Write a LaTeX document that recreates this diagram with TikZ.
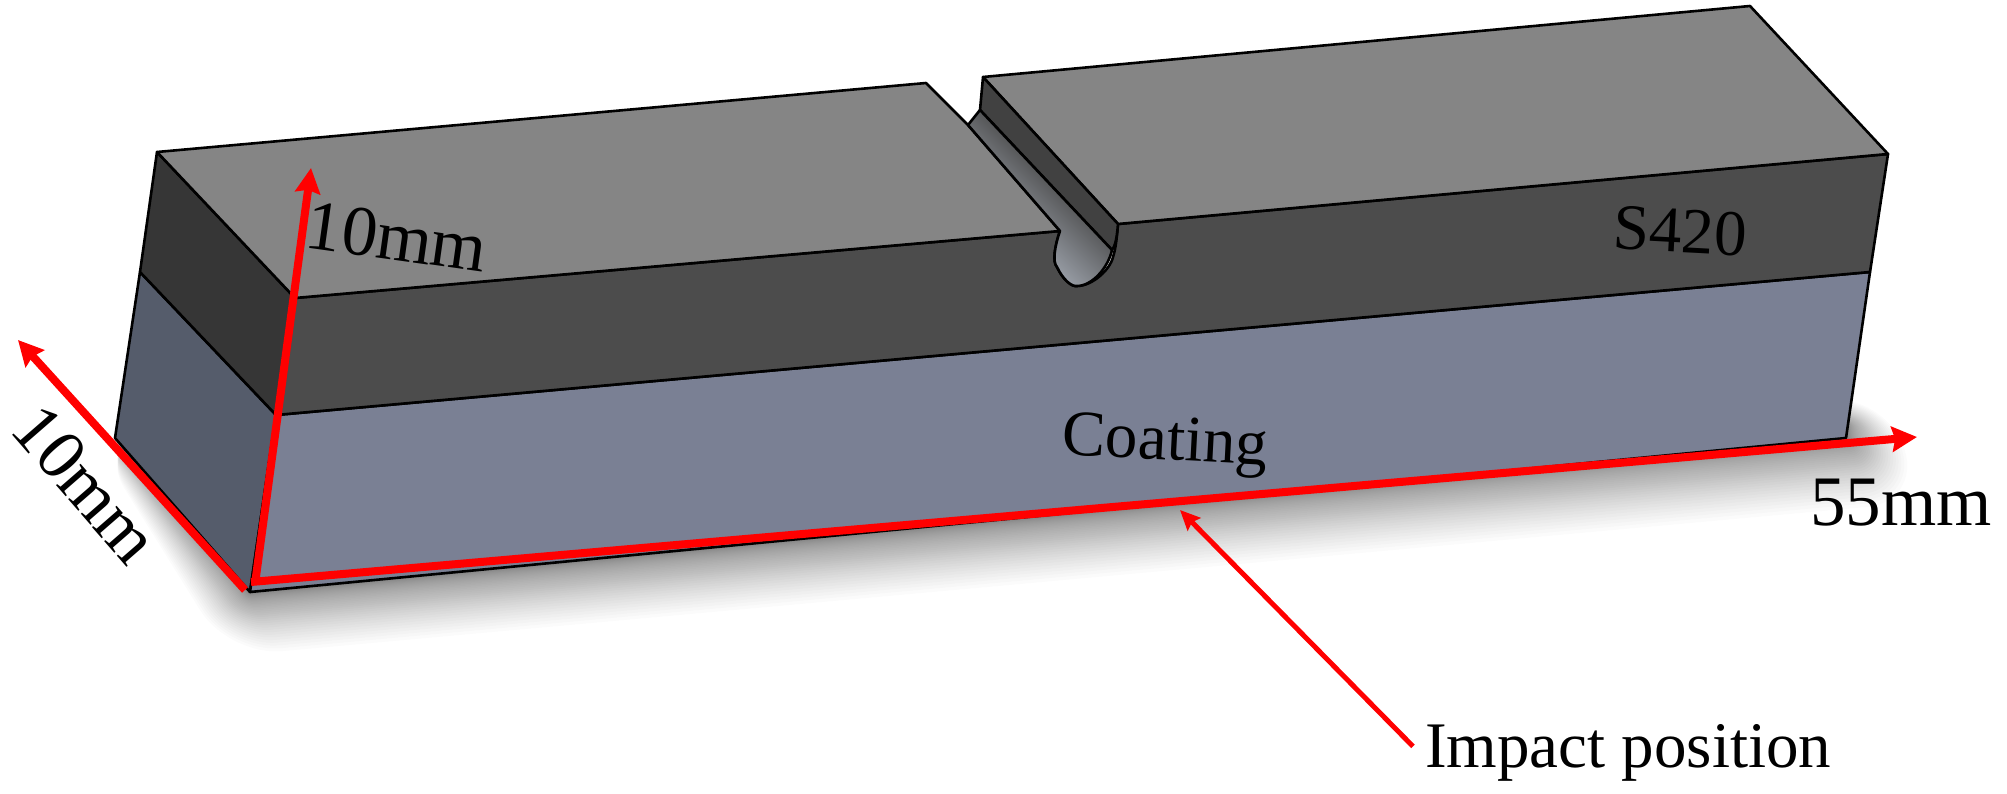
\documentclass[tikz,border=0pt]{standalone}
\usepackage{fontspec}
\setmainfont{Liberation Serif}
\usetikzlibrary{arrows.meta}
\definecolor{topgray}{HTML}{858585}
\definecolor{frontdark}{HTML}{4C4C4C}
\definecolor{sidedark}{HTML}{363636}
\definecolor{coatfront}{HTML}{7A8094}
\definecolor{coatside}{HTML}{555C6B}
\definecolor{dimred}{HTML}{FF0000}
\definecolor{groovelight}{HTML}{959AA2}
\definecolor{groovedark}{HTML}{484848}
\pgfdeclarehorizontalshading{grooveshade}{100bp}{color(0bp)=(groovelight); color(38bp)=(groovelight);
  color(60bp)=(groovedark); color(100bp)=(groovedark)}
\tikzstyle{edge} = [draw=black,line width=2.6pt,line join=round]
\tikzstyle{dimarrow} = [draw=dimred,line width=8pt,-{Stealth[length=25pt,width=25pt,inset=3pt]}]
\tikzstyle{thinarrow} = [draw=dimred,line width=5pt,-{Stealth[length=20pt,width=18pt,inset=3pt]}]
\tikzstyle{dimlabel} = [font=\fontsize{71}{71}\selectfont,text=black,inner sep=0pt]
\tikzstyle{matlabel} = [font=\fontsize{65}{65}\selectfont,text=black,inner sep=0pt]

\begin{document}
\begin{tikzpicture}[x=1pt,y=-1pt]
    \useasboundingbox (0,0) rectangle (2007,794);
    \fill [white] (0,0) rectangle (2007,794);
    % corners of the bar
    \coordinate (topback) at (157,152);
    \coordinate (topfront) at (295,298);
    \coordinate (midback) at (140,272);
    \coordinate (midfront) at (276,415);
    \coordinate (botback) at (115,438);
    \coordinate (botfront) at (250,592);
    \coordinate (topbackr) at (1750,6);
    \coordinate (topfrontr) at (1888,154);
    \coordinate (midr) at (1870,272);
    \coordinate (botr) at (1846,438);
    % notch
    \coordinate (notchbackl) at (926,83);
    \coordinate (notchlipl) at (968,125);
    \coordinate (notchfrontl) at (1060,231);
    \coordinate (notchbackr) at (983,77);
    \coordinate (notchfrontr) at (1118,224);
    \coordinate (notchin) at (980,110);
    \coordinate (notchinf) at (1112,250);
    % arrow ends
    \coordinate (origin) at (245,590);
    \coordinate (widthtip) at (18,340);
    \coordinate (heightbase) at (255,584);
    \coordinate (heighttip) at (311,168);
    \coordinate (lengthbase) at (251,582);
    \coordinate (lengthtip) at (1917,437);
    \coordinate (impacttip) at (1180,510);

    % soft shadow under the bar
    \foreach \i [evaluate=\i as \s using \i*\i/30] in {40,39,...,1} {
      \fill [black,opacity=0.015,rounded corners=\s pt]
        ([shift={(-\s*0.35,\s*0.1)}]botback) -- ([shift={(-\s*0.4,\s*1.2)}]botfront)
        -- ([shift={(\s*1.4,\s*1.2)}]botr) -- ([shift={(\s*0.8,-\s*0.5)}]1846,425) -- cycle;
    }

    % faces
    \path [edge,fill=coatside] (midback) -- (midfront) -- (botfront) -- (botback) -- cycle;
    \path [edge,fill=coatfront] (midfront) -- (midr) -- (botr) -- (botfront) -- cycle;
    \path [edge,fill=sidedark] (topback) -- (topfront) -- (midfront) -- (midback) -- cycle;
    \path [edge,fill=frontdark] (topfront) -- (notchfrontl)
      .. controls (1055,245) and (1052,262) .. (1057,267)
      .. controls (1063,280) and (1072,287) .. (1077,286)
      .. controls (1092,286) and (1110,270) .. (1113,257)
      .. controls (1116,248) and (1117,235) .. (notchfrontr)
      -- (topfrontr) -- (midr) -- (midfront) -- cycle;
    \path [edge,fill=topgray] (topback) -- (notchbackl) -- (notchlipl) -- (notchfrontl) -- (topfront) -- cycle;
    \path [edge,fill=topgray] (notchbackr) -- (topbackr) -- (topfrontr) -- (notchfrontr) -- cycle;
    % groove
    \path [edge,fill=frontdark!85!black] (notchbackr) -- (notchfrontr)
      .. controls (1117,235) and (1116,245) .. (notchinf) -- (notchin) -- cycle;
    \path [edge,shade,shading=grooveshade,shading angle=45]
      (notchlipl) -- (notchin) -- (notchinf)
      .. controls (1108,268) and (1092,286) .. (1077,286)
      .. controls (1072,287) and (1063,280) .. (1057,267)
      .. controls (1052,262) and (1055,245) .. (notchfrontl) -- cycle;

    % dimensions
    \draw [dimarrow] (origin) -- (widthtip);
    \draw [dimarrow] (heightbase) -- (heighttip);
    \draw [dimarrow] (lengthbase) -- (lengthtip);

    \node [dimlabel,rotate=-8] (heightlabel) at (397,237) {10mm};
    \node [dimlabel,rotate=-49] (widthlabel) at (86,484) {10mm};
    \node [dimlabel,anchor=base] (lengthlabel) at (1901,525) {55mm};
    \node [matlabel,rotate=-3] (steellabel) at (1680,231) {S420};
    \node [matlabel,rotate=-3] (coatlabel) at (1165,445) {Coating};
    \node [matlabel,inner xsep=12pt,anchor=base west] (impactlabel) at (1413,767) {Impact position};
    \draw [thinarrow] ([yshift=6pt]impactlabel.west) -- (impacttip);
\end{tikzpicture}
\end{document}
